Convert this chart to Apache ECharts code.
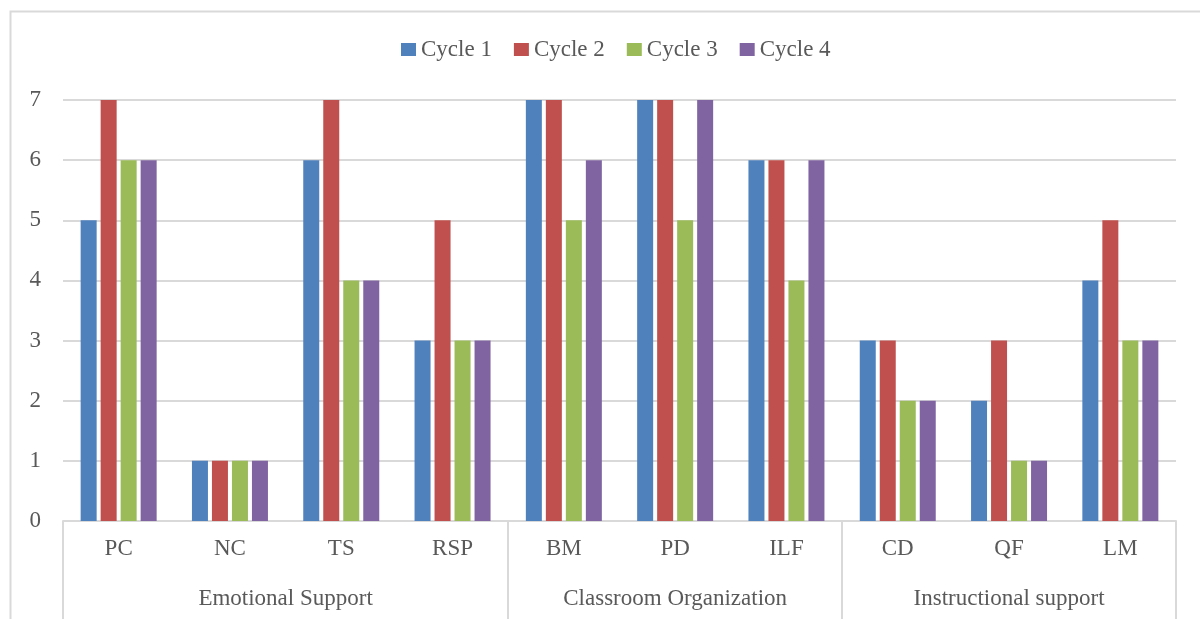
<!DOCTYPE html>
<html>
<head>
<meta charset="utf-8">
<script src="https://cdn.jsdelivr.net/npm/echarts@6/dist/echarts.min.js"></script>
<style>
  html, body { margin: 0; padding: 0; background: #fff; }
  #chart { width: 1200px; height: 619px; }
</style>
</head>
<body>
<div id="chart"></div>
<script>
// 数据
const categories = ['PC', 'NC', 'TS', 'RSP', 'BM', 'PD', 'ILF', 'CD', 'QF', 'LM']
const groupNames = ['Emotional Support', 'Classroom Organization', 'Instructional support']
const groupSizes = [4, 3, 3]
const seriesNames = ['Cycle 1', 'Cycle 2', 'Cycle 3', 'Cycle 4']
const cycle1 = [5, 1, 6, 3, 7, 7, 6, 3, 2, 4]
const cycle2 = [7, 1, 7, 5, 7, 7, 6, 3, 3, 5]
const cycle3 = [6, 1, 4, 3, 5, 5, 4, 2, 1, 3]
const cycle4 = [6, 1, 4, 3, 6, 7, 6, 2, 1, 3]
const yTicks = [0, 1, 2, 3, 4, 5, 6, 7]

const colors = ['#4F81BD', '#C0504D', '#9BBB59', '#8064A2']
const textColor = '#595959'
const lineColor = '#D9D9D9'
const font = '"Liberation Serif", "DejaVu Serif", serif'

// 分组边界 / 中心
const bounds = [0]
groupSizes.forEach(n => bounds.push(bounds[bounds.length - 1] + n))
const centers = groupSizes.map((n, i) => bounds[i] + n / 2)

const chart = echarts.init(document.getElementById('chart'), null, { renderer: 'canvas' })

chart.setOption({
  animation: false,
  color: colors,
  textStyle: { fontFamily: font, color: textColor },
  graphic: [{
    type: 'rect',
    shape: { x: 10.5, y: 11.5, width: 1200, height: 700 },
    style: { fill: 'none', stroke: lineColor, lineWidth: 2 },
    silent: true,
    z: -1,
  }],
  legend: {
    top: 33,
    left: 396,
    itemWidth: 15,
    itemHeight: 13,
    itemGap: 22,
    icon: 'rect',
    textStyle: { fontFamily: font, fontSize: 23, color: textColor },
    data: seriesNames,
  },
  grid: { left: 63, right: 24, top: 100, bottom: 98 },
  xAxis: [
    {
      type: 'category',
      data: categories,
      axisLine: { lineStyle: { color: lineColor, width: 2 } },
      axisTick: { show: false },
      axisLabel: { fontFamily: font, fontSize: 23, color: textColor, margin: 16 },
    },
    {
      type: 'value',
      position: 'bottom',
      min: 0,
      max: bounds[bounds.length - 1],
      axisLine: { show: false },
      splitLine: { show: false },
      axisTick: {
        show: true,
        customValues: bounds,
        length: 100,
        lineStyle: { color: lineColor, width: 2 },
      },
      axisLabel: {
        customValues: centers,
        formatter: v => {
          const i = centers.findIndex(c => Math.abs(c - v) < 1e-6)
          return i >= 0 ? groupNames[i] : ''
        },
        fontFamily: font, fontSize: 23, color: textColor, margin: 66,
        showMinLabel: true, showMaxLabel: true,
      },
    },
  ],
  yAxis: {
    type: 'value',
    min: yTicks[0],
    max: yTicks[yTicks.length - 1],
    interval: 1,
    axisLine: { show: false },
    axisTick: { show: false },
    splitLine: { lineStyle: { color: lineColor, width: 2 } },
    axisLabel: { fontFamily: font, fontSize: 23, color: textColor, margin: 22 },
  },
  series: [cycle1, cycle2, cycle3, cycle4].map((d, i) => ({
    name: seriesNames[i],
    type: 'bar',
    data: d,
    barWidth: 16,
    barGap: '25%',
    xAxisIndex: 0,
  })),
})
</script>
</body>
</html>
